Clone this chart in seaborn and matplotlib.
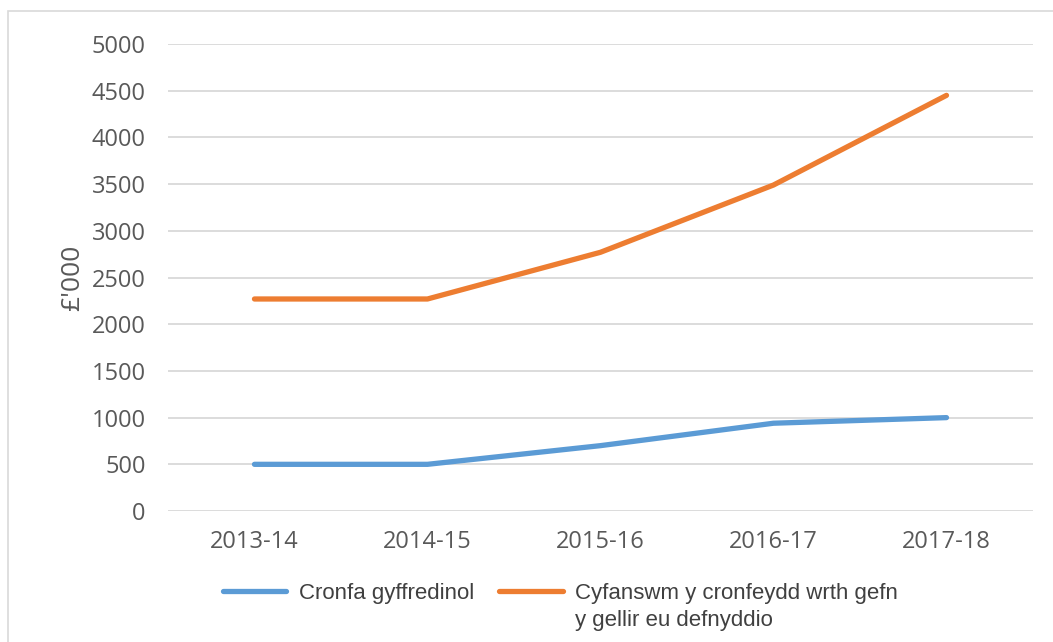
import pandas as pd
import matplotlib.pyplot as plt
import seaborn as sns
from matplotlib.patches import Rectangle

# data
years = ['2013-14', '2014-15', '2015-16', '2016-17', '2017-18']
general_fund = [500, 500, 700, 940, 1000]
usable_reserves = [2270, 2270, 2770, 3490, 4450]
series_names = ['Cronfa gyffredinol', 'Cyfanswm y cronfeydd wrth gefn']
second_line = 'y gellir eu defnyddio'
y_ticks = list(range(0, 5001, 500))

df = pd.DataFrame({
    'year': years * 2,
    'value': general_fund + usable_reserves,
    'series': [series_names[0]] * len(years) + [series_names[1]] * len(years),
})

sns.set_theme(style='white')
plt.rcParams['font.family'] = ['Open Sans', 'DejaVu Sans']

fig = plt.figure(figsize=(10.53, 6.42), dpi=100)
ax = fig.add_axes([0.1595, 0.204, 0.8215, 0.7275])

sns.lineplot(data=df, x='year', y='value', hue='series', sort=False,
             palette=['#5B9BD5', '#ED7D31'], linewidth=3.8, ax=ax)

ax.set_xlim(-0.5, len(years) - 0.5)
ax.set_ylim(0, 5000)
ax.set_yticks(y_ticks)
ax.yaxis.grid(True, color='#D9D9D9', linewidth=1.3)
ax.set_axisbelow(True)
for s in ax.spines.values():
    s.set_visible(False)
ax.tick_params(axis='both', length=0, labelsize=17, labelcolor='#595959')
ax.tick_params(axis='y', pad=16)
ax.tick_params(axis='x', pad=14)
ax.set_xlabel('')
ax.set_ylabel("£'000", fontsize=19, color='#595959', labelpad=5)

handles, labels = ax.get_legend_handles_labels()
leg = ax.legend(handles, labels, loc='center left', bbox_to_anchor=(0.0636, -0.1756), ncol=2,
                frameon=False, borderpad=0, borderaxespad=0, handlelength=2.85,
                handletextpad=0.55, columnspacing=1.15,
                prop={'family': 'Liberation Sans', 'size': 16}, labelcolor='#404040')

# second line of the orange label, set under the first one
fig.canvas.draw()
bb = leg.get_texts()[1].get_window_extent()
fig.text(bb.x0 / fig.bbox.width, (bb.y0 - 27) / fig.bbox.height, second_line,
         family='Liberation Sans', fontsize=16, color='#404040', va='bottom', ha='left')

# light outer frame
fig.patches.append(Rectangle((8 / 1053, -0.01), 1.02, 1 - 11 / 642 + 0.01,
                             transform=fig.transFigure, fill=False,
                             edgecolor='#D9D9D9', linewidth=1.2))

fig.savefig('out.png', dpi=100)
